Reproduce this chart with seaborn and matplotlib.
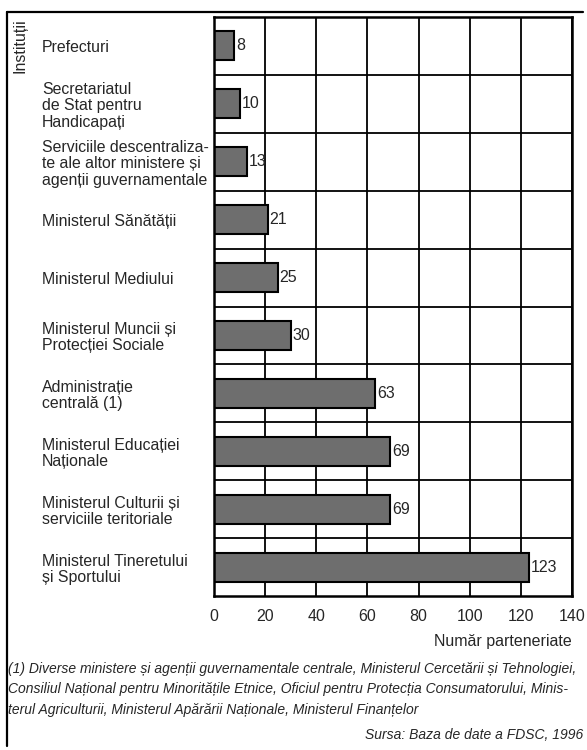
import matplotlib
matplotlib.use('Agg')
import matplotlib.pyplot as plt
import pandas as pd
import seaborn as sns
from matplotlib.lines import Line2D

# Date
institutii = ['Prefecturi',
              'Secretariatul\nde Stat pentru\nHandicapați',
              'Serviciile descentraliza-\nte ale altor ministere și\nagenții guvernamentale',
              'Ministerul Sănătății',
              'Ministerul Mediului',
              'Ministerul Muncii și\nProtecției Sociale',
              'Administrație\ncentrală (1)',
              'Ministerul Educației\nNaționale',
              'Ministerul Culturii și\nserviciile teritoriale',
              'Ministerul Tineretului\nși Sportului']
parteneriate = [8, 10, 13, 21, 25, 30, 63, 69, 69, 123]
x_ticks = [0, 20, 40, 60, 80, 100, 120, 140]

nota = ('(1) Diverse ministere și agenții guvernamentale centrale, Ministerul Cercetării și Tehnologiei,\n'
        'Consiliul Național pentru Minoritățile Etnice, Oficiul pentru Protecția Consumatorului, Minis-\n'
        'terul Agriculturii, Ministerul Apărării Naționale, Ministerul Finanțelor')
sursa = 'Sursa: Baza de date a FDSC, 1996'

df = pd.DataFrame({'Instituție': institutii, 'Număr': parteneriate})

sns.set_style('white')
plt.rcParams['font.family'] = ['Liberation Sans', 'DejaVu Sans']

fig = plt.figure(figsize=(5.87, 7.5), dpi=100)
ax = fig.add_axes([0.3646, 0.2053, 0.6098, 0.772])

sns.barplot(data=df, x='Număr', y='Instituție', orient='h', color='#6e6e6e',
            edgecolor='black', linewidth=1.5, width=0.5, saturation=1, ax=ax)

for p, v in zip(ax.patches, parteneriate):
    ax.text(p.get_width() + 0.7, p.get_y() + p.get_height() / 2, str(v),
            va='center', ha='left', fontsize=11.5)

ax.set_xlim(0, 140)
ax.set_ylim(len(institutii) - 0.5, -0.5)
ax.set_xticks(x_ticks)
ax.set_xticklabels([str(t) for t in x_ticks], fontsize=11.5)
ax.set_yticks(range(len(institutii)))
ax.set_yticklabels(institutii, fontsize=11.4, linespacing=1.1)
for lab in ax.get_yticklabels():
    lab.set_ha('left')
ax.tick_params(axis='y', length=0, pad=124)
ax.tick_params(axis='x', length=0, pad=9)

ax.set_yticks([i + 0.5 for i in range(len(institutii) - 1)], minor=True)
ax.grid(True, which='minor', axis='y', color='black', linewidth=1.3)
ax.grid(True, which='major', axis='x', color='black', linewidth=1.3)
ax.set_axisbelow(True)
for s in ax.spines.values():
    s.set_visible(True)
    s.set_color('black')
    s.set_linewidth(1.8)

ax.set_ylabel('')
ax.set_xlabel('')
fig.text(0.9745, 0.145, 'Număr parteneriate', ha='right', va='center', fontsize=11.5)
fig.text(0.034, 0.976, 'Instituții', rotation=90, ha='center', va='top', fontsize=11.5)

fig.text(0.014, 0.081, nota, ha='left', va='center', fontsize=10, style='italic',
         linespacing=1.6)
fig.text(0.993, 0.02, sursa, ha='right', va='center', fontsize=10, style='italic')

# chenar: sus si stanga
fig.add_artist(Line2D([0.012, 0.012], [0.006, 0.984], transform=fig.transFigure,
                      color='black', linewidth=1.6))
fig.add_artist(Line2D([0.012, 0.994], [0.984, 0.984], transform=fig.transFigure,
                      color='black', linewidth=1.6))

fig.savefig('out.png', dpi=100)
